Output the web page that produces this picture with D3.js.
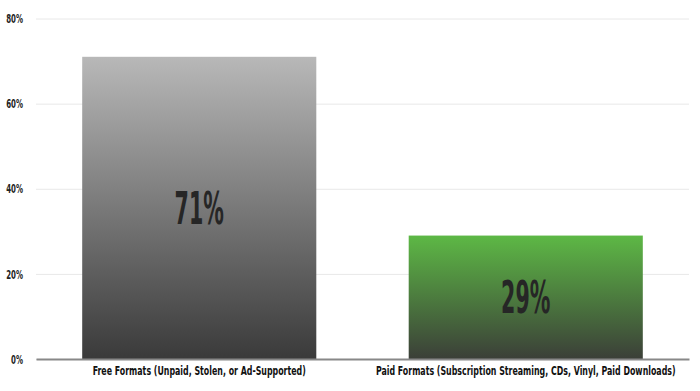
<!DOCTYPE html>
<html>
<head>
<meta charset="utf-8">
<script src="https://cdn.jsdelivr.net/npm/d3@7"></script>
<style>
  body { margin: 0; background: #fff; }
  text { font-family: "DejaVu Sans Condensed", "DejaVu Sans", sans-serif; font-weight: bold; font-stretch: condensed; }
</style>
</head>
<body>
<svg id="chart" width="700" height="391"></svg>
<script>
const categories = ["Free Formats (Unpaid, Stolen, or Ad-Supported)", "Paid Formats (Subscription Streaming, CDs, Vinyl, Paid Downloads)"];
const shares = [71, 29];
const yTicks = [0, 20, 40, 60, 80];
const topColors = ["#b8b8b8", "#5db845"];
const bottomColors = ["#3a3a3a", "#3b3f38"];

const data = categories.map((c, i) => ({ category: c, value: shares[i], i }));

// squeeze text horizontally to mimic the narrow display face
const condense = (sel, k) => sel.each(function() {
  const w = this.getComputedTextLength();
  d3.select(this).attr('textLength', w * k).attr('lengthAdjust', 'spacingAndGlyphs');
});

const svg = d3.select('#chart');
const margin = { left: 36, right: 11, top: 18.5, bottom: 32 };
const width = +svg.attr('width');
const height = +svg.attr('height');
const innerWidth = width - margin.left - margin.right;
const innerHeight = height - margin.top - margin.bottom;

const defs = svg.append('defs');
data.forEach(d => {
  const grad = defs.append('linearGradient')
    .attr('id', 'grad' + d.i)
    .attr('x1', 0).attr('y1', 0).attr('x2', 0).attr('y2', 1);
  grad.append('stop').attr('offset', '0%').attr('stop-color', topColors[d.i]);
  grad.append('stop').attr('offset', '100%').attr('stop-color', bottomColors[d.i]);
});

const g = svg.append('g')
  .attr('transform', `translate(${margin.left},${margin.top})`);

const xScale = d3.scaleBand()
  .domain(categories)
  .range([0, innerWidth])
  .paddingInner(0.283)
  .paddingOuter(0.1415);

const yScale = d3.scaleLinear()
  .domain([0, 80])
  .range([innerHeight, 0]);

// gridlines + tick labels
const yAxis = d3.axisLeft(yScale)
  .tickValues(yTicks)
  .tickSize(-innerWidth)
  .tickPadding(13)
  .tickFormat(d => d + '%');

const yAxisG = g.append('g').call(yAxis);
yAxisG.select('.domain').remove();
yAxisG.selectAll('.tick line')
  .attr('stroke', '#e8e8e8')
  .attr('stroke-width', 1);
yAxisG.selectAll('.tick text')
  .attr('fill', '#222')
  .style('font-size', '13px')
  .call(condense, 0.6);

g.selectAll('.bar')
  .data(data)
  .enter().append('rect')
  .attr('class', 'bar')
  .attr('x', d => xScale(d.category))
  .attr('y', d => yScale(d.value))
  .attr('width', xScale.bandwidth())
  .attr('height', d => innerHeight - yScale(d.value))
  .attr('fill', d => `url(#grad${d.i})`);

g.selectAll('.val')
  .data(data)
  .enter().append('text')
  .attr('class', 'val')
  .attr('x', d => xScale(d.category) + xScale.bandwidth() / 2)
  .attr('y', d => (yScale(d.value) + innerHeight) / 2)
  .attr('dy', '0.36em')
  .attr('text-anchor', 'middle')
  .attr('fill', '#262626')
  .style('font-size', '44px')
  .text(d => d.value + '%')
  .call(condense, 0.52);

// baseline + category labels
const xAxis = d3.axisBottom(xScale).tickSize(0).tickPadding(7);
const xAxisG = g.append('g')
  .attr('transform', `translate(0,${innerHeight})`)
  .call(xAxis);
xAxisG.select('.domain')
  .attr('stroke', '#888')
  .attr('stroke-width', 2);
xAxisG.selectAll('.tick text')
  .attr('fill', '#111')
  .style('font-size', '12.5px')
  .call(condense, 0.7);
</script>
</body>
</html>
